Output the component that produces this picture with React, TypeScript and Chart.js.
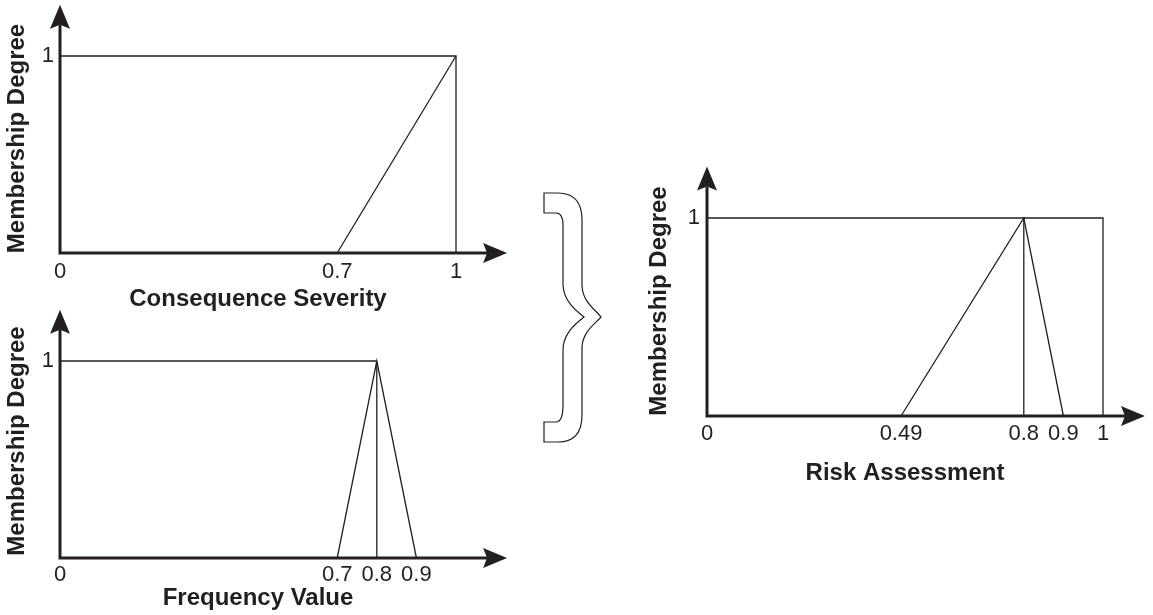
import React, { useEffect, useRef } from "react";
import { Chart, registerables } from "chart.js";

Chart.register(...registerables);

const FONT = '"Liberation Sans", Arial, Helvetica, sans-serif';
const INK = "#231f20";

// ---- Consequence Severity ----
const severityPlateauX = [0, 1, 1];
const severityPlateauY = [1, 1, 0];
const severityRampX = [0.7, 1];
const severityRampY = [0, 1];
const severityTicks = [0, 0.7, 1];
const severityTickLabels = ["0", "0.7", "1"];

// ---- Frequency Value ----
const frequencyPlateauX = [0, 0.8];
const frequencyPlateauY = [1, 1];
const frequencyTriangleX = [0.7, 0.8, 0.9];
const frequencyTriangleY = [0, 1, 0];
const frequencyPeakX = [0.8, 0.8];
const frequencyPeakY = [0, 1];
const frequencyTicks = [0, 0.7, 0.8, 0.9];
const frequencyTickLabels = ["0", "0.7", "0.8", "0.9"];

// ---- Risk Assessment ----
const riskPlateauX = [0, 1, 1];
const riskPlateauY = [1, 1, 0];
const riskTriangleX = [0.49, 0.8, 0.9];
const riskTriangleY = [0, 1, 0];
const riskPeakX = [0.8, 0.8];
const riskPeakY = [0, 1];
const riskTicks = [0, 0.49, 0.8, 0.9, 1];
const riskTickLabels = ["0", "0.49", "0.8", "0.9", "1"];

// ---- shared y axis ----
const membershipTicks = [1];
const membershipTickLabels = ["1"];
const yAxisTitle = "Membership Degree";

type Series = { x: number[]; y: number[] };
type Panel = {
  box: { left: number; top: number; width: number; height: number };
  area: { left: number; top: number; right: number; bottom: number };
  xMax: number;
  yMax: number;
  xArrow: number;
  yArrow: number;
  xTitle: string;
  xTicks: number[];
  xTickLabels: string[];
  xTickPad: number;
  yTickPad: number;
  xTitlePad: number;
  yTitlePad: number;
  series: Series[];
};

const panels: Panel[] = [
  {
    box: { left: 0, top: 0, width: 530, height: 318 },
    area: { left: 60, top: 24, right: 456, bottom: 253 },
    xMax: 1,
    yMax: 229 / 197,
    xArrow: 1.129,
    yArrow: 1.26,
    xTitle: "Consequence Severity",
    xTicks: severityTicks,
    xTickLabels: severityTickLabels,
    xTickPad: 6,
    yTickPad: 6,
    xTitlePad: 4,
    yTitlePad: 3,
    series: [
      { x: severityPlateauX, y: severityPlateauY },
      { x: severityRampX, y: severityRampY },
    ],
  },
  {
    box: { left: 0, top: 300, width: 530, height: 315 },
    area: { left: 60, top: 324, right: 456, bottom: 558 },
    xMax: 1,
    yMax: 234 / 197,
    xArrow: 1.129,
    yArrow: 1.26,
    xTitle: "Frequency Value",
    xTicks: frequencyTicks,
    xTickLabels: frequencyTickLabels,
    xTickPad: 4,
    yTickPad: 6,
    xTitlePad: 2,
    yTitlePad: 3,
    series: [
      { x: frequencyPlateauX, y: frequencyPlateauY },
      { x: frequencyTriangleX, y: frequencyTriangleY },
      { x: frequencyPeakX, y: frequencyPeakY },
    ],
  },
  {
    box: { left: 630, top: 150, width: 523, height: 340 },
    area: { left: 707, top: 186, right: 1103, bottom: 416 },
    xMax: 1,
    yMax: 230 / 198,
    xArrow: 1.106,
    yArrow: 1.26,
    xTitle: "Risk Assessment",
    xTicks: riskTicks,
    xTickLabels: riskTickLabels,
    xTickPad: 5,
    yTickPad: 7,
    xTitlePad: 2,
    yTitlePad: 15,
    series: [
      { x: riskPlateauX, y: riskPlateauY },
      { x: riskTriangleX, y: riskTriangleY },
      { x: riskPeakX, y: riskPeakY },
    ],
  },
];

const axisArrows = {
  id: "axisArrows",
  afterDatasetsDraw(chart: any, _args: any, opts: any) {
    const { ctx } = chart;
    const x = chart.scales.x;
    const y = chart.scales.y;
    const ox = x.getPixelForValue(0);
    const oy = y.getPixelForValue(0);
    const tx = x.getPixelForValue(opts.xArrow);
    const ty = y.getPixelForValue(opts.yArrow);
    const L = 24;
    const W = 10;
    ctx.save();
    ctx.strokeStyle = INK;
    ctx.fillStyle = INK;
    ctx.lineWidth = 3;
    ctx.lineJoin = "miter";
    ctx.beginPath();
    ctx.moveTo(ox, ty + L - 4);
    ctx.lineTo(ox, oy);
    ctx.lineTo(tx - L + 4, oy);
    ctx.stroke();
    ctx.beginPath();
    ctx.moveTo(ox, ty);
    ctx.lineTo(ox - W, ty + L);
    ctx.lineTo(ox, ty + L - 4);
    ctx.lineTo(ox + W, ty + L);
    ctx.closePath();
    ctx.fill();
    ctx.beginPath();
    ctx.moveTo(tx, oy);
    ctx.lineTo(tx - L, oy - W);
    ctx.lineTo(tx - L + 4, oy);
    ctx.lineTo(tx - L, oy + W);
    ctx.closePath();
    ctx.fill();
    ctx.restore();
  },
};

function MembershipChart({ panel }: { panel: Panel }) {
  const ref = useRef<HTMLCanvasElement>(null);
  useEffect(() => {
    if (!ref.current) return;
    const { box, area } = panel;
    const padTop = area.top - box.top;
    const padRight = box.left + box.width - area.right;
    const yWidth = area.left - box.left;
    const xHeight = box.top + box.height - area.bottom;
    const chart = new Chart(ref.current, {
      type: "scatter",
      data: {
        datasets: panel.series.map((s) => ({
          data: s.x.map((xv, i) => ({ x: xv, y: s.y[i] })),
          showLine: true,
          borderColor: INK,
          backgroundColor: INK,
          borderWidth: 1.3,
          pointRadius: 0,
          pointHoverRadius: 0,
          tension: 0,
          fill: false,
          clip: false as any,
        })),
      },
      options: {
        animation: false,
        responsive: false,
        maintainAspectRatio: false,
        events: [],
        layout: { padding: { left: 0, top: padTop, right: padRight, bottom: 0 } },
        plugins: {
          legend: { display: false },
          tooltip: { enabled: false },
          title: { display: false },
          axisArrows: { xArrow: panel.xArrow, yArrow: panel.yArrow },
        } as any,
        scales: {
          x: {
            type: "linear",
            position: "bottom",
            min: 0,
            max: panel.xMax,
            grid: { display: false, drawTicks: false },
            border: { display: false },
            afterBuildTicks: (s: any) => {
              s.ticks = panel.xTicks.map((v) => ({ value: v }));
            },
            afterFit: (s: any) => {
              s.height = xHeight;
            },
            ticks: {
              autoSkip: false,
              maxRotation: 0,
              minRotation: 0,
              padding: panel.xTickPad,
              color: INK,
              font: { family: FONT, size: 22 },
              callback: (_v: any, i: number) => panel.xTickLabels[i],
            },
            title: {
              display: true,
              text: panel.xTitle,
              color: INK,
              font: { family: FONT, size: 24, weight: "bold" },
              padding: { top: 0, bottom: panel.xTitlePad },
            },
          },
          y: {
            type: "linear",
            position: "left",
            min: 0,
            max: panel.yMax,
            grid: { display: false, drawTicks: false },
            border: { display: false },
            afterBuildTicks: (s: any) => {
              s.ticks = membershipTicks.map((v) => ({ value: v }));
            },
            afterFit: (s: any) => {
              s.width = yWidth;
            },
            ticks: {
              autoSkip: false,
              padding: panel.yTickPad,
              color: INK,
              font: { family: FONT, size: 22 },
              callback: (_v: any, i: number) => membershipTickLabels[i],
            },
            title: {
              display: true,
              text: yAxisTitle,
              color: INK,
              font: { family: FONT, size: 24, weight: "bold" },
              padding: { top: panel.yTitlePad, bottom: 0 },
            },
          },
        },
      } as any,
      plugins: [axisArrows],
    });
    return () => chart.destroy();
  }, [panel]);
  const { box } = panel;
  return (
    <canvas
      ref={ref}
      width={box.width}
      height={box.height}
      style={{
        position: "absolute",
        left: box.left,
        top: box.top,
        width: box.width,
        height: box.height,
      }}
    />
  );
}

const bracePath =
  "M 544 193 L 558 193 C 575 193 582 203 582 220 L 582 285 C 582 302 596 310 601 317 " +
  "C 596 323 582 332 582 348 L 582 415 C 582 432 575 442 558 442 L 544 442 L 544 422 " +
  "L 556 422 C 561 422 563 415 563 405 L 563 350 C 563 334 575 324 584 317 " +
  "C 575 310 563 300 563 284 L 563 225 C 563 218 561 213 556 213 L 544 213 Z";

export default function App() {
  return (
    <div
      style={{
        position: "absolute",
        left: 0,
        top: 0,
        width: 1153,
        height: 615,
        background: "#ffffff",
        overflow: "hidden",
      }}
    >
      <svg
        width={1153}
        height={615}
        style={{ position: "absolute", left: 0, top: 0 }}
      >
        <path d={bracePath} fill="none" stroke={INK} strokeWidth={1.2} />
      </svg>
      {panels.map((p, i) => (
        <MembershipChart key={i} panel={p} />
      ))}
    </div>
  );
}
